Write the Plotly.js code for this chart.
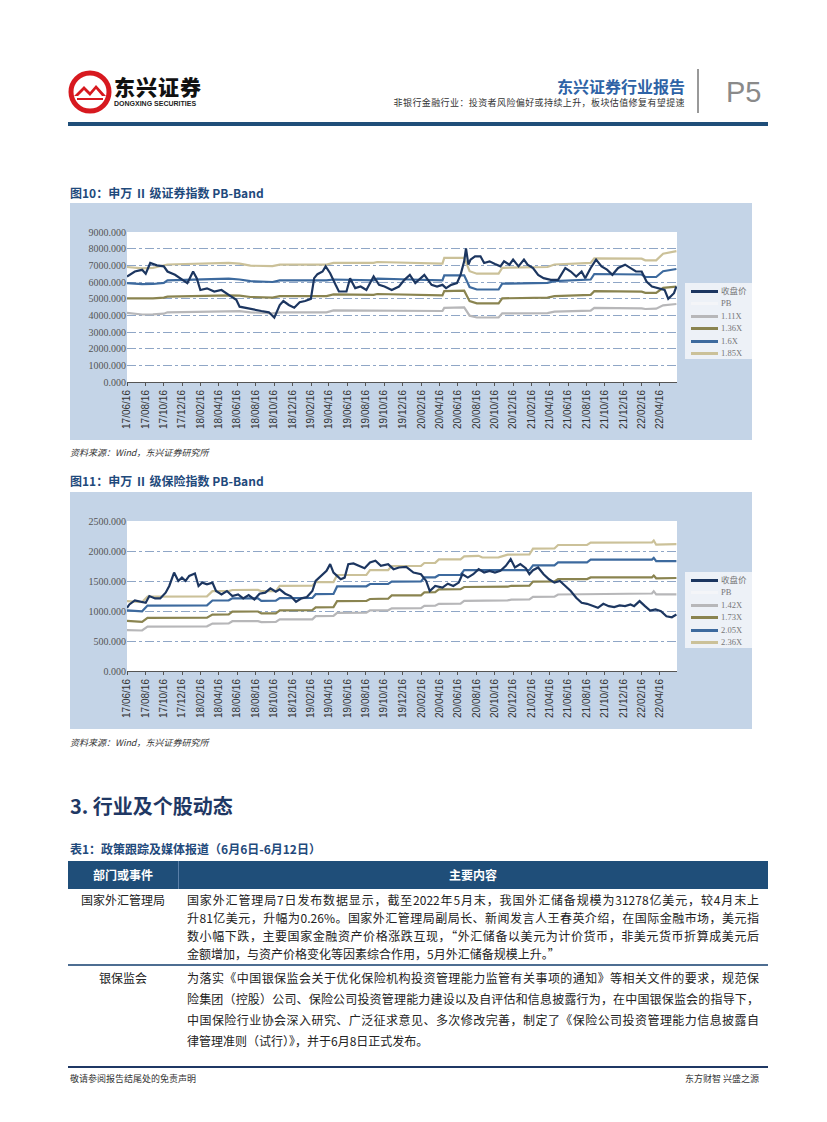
<!DOCTYPE html>
<html><head><meta charset="utf-8">
<script src="https://cdn.plot.ly/plotly-3.0.1.min.js"></script>
<style>
html,body{margin:0;padding:0;background:#fff;}
body{width:827px;height:1122px;position:relative;overflow:hidden;font-family:"Noto Sans CJK SC","Noto Sans",sans-serif;}
.abs{position:absolute;white-space:nowrap;}
.ftitle{font-size:12px;font-weight:bold;color:#1F4A7C;}
.src{font-size:9px;font-style:italic;color:#333;}
.chartbox{position:absolute;left:70px;width:682px;height:237px;background:#C4D4E7;}
.row-line{font-size:12px;color:#222;text-align:justify;text-align-last:justify;}
.row-line.last{text-align-last:left;}
.lg{position:absolute;left:685px;width:67px;height:76px;background-color:#EDF1F7;
  background-image:radial-gradient(#D3DDEB 0.6px, transparent 0.7px);background-size:2px 2px;}
.lgi{position:absolute;left:0;height:12px;width:67px;}
.lgi .ln{position:absolute;left:6px;top:5px;width:27px;height:3px;}
.lgi .tx{position:absolute;left:36px;top:0;font-size:8.5px;line-height:12px;color:#777;font-family:"Liberation Serif","Noto Sans CJK SC",serif;}
</style></head><body>

<!-- header -->
<svg class="abs" style="left:68px;top:70px" width="44" height="44" viewBox="0 0 44 44">
  <circle cx="22" cy="22" r="19" fill="none" stroke="#D7191F" stroke-width="5"/>
  <path d="M6 26 L16 16 L22 22 L28 15 L38 26 L34 26 L28 19 L22 26 L16 20 L10 26 Z" fill="#D7191F"/>
  <path d="M9 29 L35 29" stroke="#D7191F" stroke-width="2"/>
</svg>
<div class="abs" style="left:114px;top:74px;font-size:21px;font-weight:900;color:#111;letter-spacing:1px;line-height:24px;">东兴证券</div>
<div class="abs" style="left:114px;top:99px;font-size:7px;font-weight:bold;color:#222;font-family:'Liberation Sans',Arial;line-height:9px;">DONGXING SECURITIES</div>
<div class="abs" style="right:142px;top:76px;font-size:16px;font-weight:bold;color:#2E63A6;line-height:20px;">东兴证券行业报告</div>
<div class="abs" style="right:142px;top:97px;font-size:9px;color:#333;line-height:12px;letter-spacing:0.4px;">非银行金融行业：投资者风险偏好或持续上升，板块估值修复有望提速</div>
<div class="abs" style="left:697px;top:69px;width:2px;height:44px;background:#999;"></div>
<div class="abs" style="left:726px;top:76px;font-size:29px;color:#8A8A8A;font-family:'Liberation Sans',Arial;line-height:32px;">P5</div>
<div class="abs" style="left:68px;top:122px;width:700px;height:4px;background:#1F4E79;"></div>

<!-- figure 10 -->
<div class="abs ftitle" style="left:70px;top:184px;">图10：申万 Ⅱ 级证券指数 PB-Band</div>
<div class="chartbox" style="top:203px;"></div>
<div id="c1" class="abs" style="left:70px;top:203px;width:682px;height:237px;"></div>
<div id="lg1" class="lg" style="top:283px;"></div>
<div class="abs src" style="left:70px;top:446px;">资料来源：Wind，东兴证券研究所</div>

<!-- figure 11 -->
<div class="abs ftitle" style="left:70px;top:472px;">图11：申万 Ⅱ 级保险指数 PB-Band</div>
<div class="chartbox" style="top:492px;"></div>
<div id="c2" class="abs" style="left:70px;top:492px;width:682px;height:237px;"></div>
<div id="lg2" class="lg" style="top:572px;"></div>
<div class="abs src" style="left:70px;top:736px;">资料来源：Wind，东兴证券研究所</div>

<!-- section -->
<div class="abs" style="left:70px;top:792px;font-size:20px;font-weight:bold;color:#1F3864;line-height:28px;">3. 行业及个股动态</div>
<div class="abs ftitle" style="left:70px;top:840px;">表1：政策跟踪及媒体报道（6月6日-6月12日）</div>

<!-- table -->
<div class="abs" style="left:68px;top:861px;width:700px;height:28px;background:#1F4E79;"></div>
<div class="abs" style="left:178px;top:861px;width:1px;height:28px;background:#5A7FA8;"></div>
<div class="abs" style="left:68px;top:861px;width:110px;line-height:28px;text-align:center;color:#fff;font-weight:bold;font-size:12px;">部门或事件</div>
<div class="abs" style="left:178px;top:861px;width:590px;line-height:28px;text-align:center;color:#fff;font-weight:bold;font-size:12px;">主要内容</div>

<div class="abs" style="left:68px;top:891px;width:110px;text-align:center;font-size:12px;line-height:18px;color:#222;">国家外汇管理局</div>
<div class="abs" style="left:187px;top:891px;width:572px;white-space:normal;line-height:18px;">
<div class="row-line">国家外汇管理局7日发布数据显示，截至2022年5月末，我国外汇储备规模为31278亿美元，较4月末上</div>
<div class="row-line">升81亿美元，升幅为0.26%。国家外汇管理局副局长、新闻发言人王春英介绍，在国际金融市场，美元指</div>
<div class="row-line">数小幅下跌，主要国家金融资产价格涨跌互现，“外汇储备以美元为计价货币，非美元货币折算成美元后</div>
<div class="row-line last">金额增加，与资产价格变化等因素综合作用，5月外汇储备规模上升。”</div>
</div>
<div class="abs" style="left:68px;top:964px;width:700px;height:2px;background:#4E6E92;"></div>

<div class="abs" style="left:68px;top:967px;width:110px;text-align:center;font-size:12px;line-height:21px;color:#222;">银保监会</div>
<div class="abs" style="left:187px;top:967px;width:572px;white-space:normal;line-height:21px;">
<div class="row-line">为落实《中国银保监会关于优化保险机构投资管理能力监管有关事项的通知》等相关文件的要求，规范保</div>
<div class="row-line">险集团（控股）公司、保险公司投资管理能力建设以及自评估和信息披露行为，在中国银保监会的指导下，</div>
<div class="row-line">中国保险行业协会深入研究、广泛征求意见、多次修改完善，制定了《保险公司投资管理能力信息披露自</div>
<div class="row-line last">律管理准则（试行）》，并于6月8日正式发布。</div>
</div>

<!-- footer -->
<div class="abs" style="left:68px;top:1066px;width:700px;height:2px;background:#1F3864;"></div>
<div class="abs" style="left:70px;top:1072px;font-size:9px;color:#333;">敬请参阅报告结尾处的免责声明</div>
<div class="abs" style="right:68px;top:1072px;font-size:9px;color:#333;">东方财智 兴盛之源</div>

<script>
// ---------- shared tick labels ----------
const tickLabels = ['17/06/16','17/08/16','17/10/16','17/12/16','18/02/16','18/04/16','18/06/16','18/08/16','18/10/16','18/12/16',
'19/02/16','19/04/16','19/06/16','19/08/16','19/10/16','19/12/16','20/02/16','20/04/16','20/06/16','20/08/16','20/10/16','20/12/16',
'21/02/16','21/04/16','21/06/16','21/08/16','21/10/16','21/12/16','22/02/16','22/04/16'];

// ---------- Figure 10: securities index ----------
const c1Dates = ['2017-06-16','2017-07-12','2017-08-05','2017-08-17','2017-09-01','2017-09-23','2017-10-16','2017-10-28','2017-11-22','2017-12-15',
'2018-01-02','2018-01-21','2018-02-02','2018-02-14','2018-03-08','2018-04-01','2018-04-25','2018-05-19','2018-06-13','2018-06-24',
'2018-07-18','2018-08-12','2018-09-04','2018-09-29','2018-10-17','2018-11-04','2018-11-16','2018-12-04','2018-12-22','2019-01-09',
'2019-01-27','2019-02-15','2019-02-26','2019-03-09','2019-03-26','2019-04-05','2019-04-20','2019-05-08','2019-05-19','2019-06-13',
'2019-06-25','2019-07-12','2019-07-30','2019-08-18','2019-08-30','2019-09-11','2019-09-29','2019-10-17','2019-11-10','2019-12-04',
'2019-12-22','2020-01-09','2020-01-27','2020-02-15','2020-02-26','2020-03-09','2020-03-21','2020-04-08','2020-04-26','2020-05-08',
'2020-05-25','2020-06-13','2020-06-25','2020-07-07','2020-07-13','2020-07-21','2020-07-28','2020-08-12','2020-08-30','2020-09-11',
'2020-09-29','2020-10-17','2020-11-04','2020-11-16','2020-12-04','2020-12-16','2021-01-03','2021-01-21','2021-02-02','2021-02-20',
'2021-03-09','2021-03-27','2021-04-20','2021-05-14','2021-05-26','2021-06-07','2021-06-25','2021-07-13','2021-07-31','2021-08-12',
'2021-08-30','2021-09-17','2021-10-05','2021-10-23','2021-11-10','2021-11-29','2021-12-22','2022-01-09','2022-01-27','2022-02-15',
'2022-03-03','2022-03-21','2022-04-14','2022-05-02','2022-05-14','2022-05-26','2022-06-02','2022-06-10'];
const c1Close = [6330,6630,6730,6500,7140,7000,6940,6630,6430,6130,
5930,6630,6230,5520,5620,5430,5520,5230,4930,4520,
4420,4320,4260,4180,3860,4620,4860,4620,4460,4790,
4860,4990,6230,6470,6630,6940,6530,5830,5430,5430,
6230,5630,5730,5520,5930,6330,5830,5730,5520,5730,
6130,6430,5930,6230,6430,6130,5830,5730,5830,5630,
5830,5930,6430,7240,8010,7040,7340,7540,7540,7140,
7240,7080,6940,7240,7040,7340,6940,7340,7040,6840,
6430,6230,6130,6130,6530,6840,6630,6330,6630,6230,
6840,7340,6940,6740,6430,6840,7040,6840,6630,6630,
6030,5730,5630,5530,4990,5230,5330,5730];
const c1BandDates = ['2017-06-16','2017-08-05','2017-09-10','2017-10-16','2017-10-28','2018-05-19','2018-06-24','2018-07-30','2018-10-11','2018-11-04',
'2019-04-08','2019-05-01','2019-09-11','2019-09-23','2020-01-09','2020-04-26','2020-05-02','2020-07-07','2020-07-25','2020-08-18',
'2020-10-29','2020-11-10','2021-04-09','2021-05-02','2021-08-30','2021-09-11','2022-02-15','2022-02-27','2022-04-04','2022-04-27','2022-06-10'];
const c1Band111 = [4150,4050,4060,4100,4180,4260,4250,4180,4120,4180,4180,4300,4280,4320,4300,4260,4450,4480,3980,3870,3870,4120,4130,4220,4280,4450,4420,4380,4400,4600,4680];
const c1Band136 = [5020,5000,5020,5060,5120,5200,5180,5100,5060,5150,5150,5260,5230,5280,5260,5200,5450,5480,4850,4720,4720,5020,5060,5150,5230,5450,5420,5350,5350,5650,5720];
const c1Band160 = [5930,5870,5880,5950,6100,6200,6150,6050,6000,6100,6100,6150,6100,6200,6150,6100,6400,6400,5700,5550,5550,5900,5950,6050,6150,6480,6450,6300,6300,6650,6780];
const c1Band185 = [6900,6820,6850,7000,7050,7150,7100,6980,6950,7040,7040,7150,7150,7200,7150,7100,7450,7450,6650,6500,6500,6850,6900,7050,7150,7420,7400,7300,7300,7700,7850];
const c1Names = ['收盘价','PB','1.11X','1.36X','1.6X','1.85X'];

// ---------- Figure 11: insurance index ----------
const c2Dates = ['2017-06-16','2017-06-24','2017-07-12','2017-07-30','2017-08-17','2017-08-29','2017-09-17','2017-10-04','2017-10-22','2017-11-03',
'2017-11-19','2017-12-03','2017-12-15','2017-12-27','2018-01-08','2018-01-27','2018-02-08','2018-02-20','2018-03-08','2018-03-26',
'2018-04-07','2018-04-25','2018-05-13','2018-05-31','2018-06-19','2018-07-06','2018-07-24','2018-08-12','2018-08-29','2018-09-17',
'2018-10-04','2018-10-22','2018-11-04','2018-11-22','2018-12-10','2018-12-28','2019-01-15','2019-02-02','2019-02-20','2019-03-03',
'2019-03-20','2019-04-08','2019-04-20','2019-05-01','2019-05-13','2019-05-25','2019-06-07','2019-06-19','2019-07-06','2019-07-24',
'2019-08-12','2019-08-30','2019-09-17','2019-10-05','2019-10-29','2019-11-16','2019-12-04','2019-12-28','2020-01-21','2020-02-15',
'2020-03-03','2020-03-15','2020-04-02','2020-04-26','2020-05-14','2020-06-01','2020-06-19','2020-07-01','2020-07-19','2020-08-06',
'2020-08-24','2020-09-11','2020-09-29','2020-10-17','2020-11-04','2020-11-22','2020-12-08','2020-12-22','2021-01-09','2021-01-27',
'2021-02-08','2021-02-20','2021-03-09','2021-03-27','2021-04-14','2021-05-02','2021-05-20','2021-06-07','2021-06-25','2021-07-13',
'2021-07-31','2021-08-18','2021-09-05','2021-09-23','2021-10-11','2021-10-29','2021-11-16','2021-12-04','2021-12-22','2022-01-09',
'2022-01-21','2022-02-08','2022-02-26','2022-03-15','2022-04-02','2022-04-20','2022-05-08','2022-05-26','2022-06-10'];
const c2Close = [1053,1109,1176,1154,1137,1249,1210,1210,1305,1417,
1641,1501,1557,1501,1585,1624,1417,1473,1445,1473,
1333,1277,1333,1249,1277,1210,1266,1193,1288,1305,
1378,1322,1361,1288,1249,1154,1210,1232,1333,1501,
1585,1669,1781,1641,1585,1529,1557,1781,1792,1753,
1714,1809,1837,1753,1781,1697,1725,1736,1641,1613,
1501,1333,1417,1389,1456,1417,1473,1613,1557,1613,
1697,1641,1669,1641,1669,1753,1865,1725,1781,1714,
1613,1680,1725,1613,1529,1473,1501,1417,1333,1221,
1137,1120,1092,1053,1120,1081,1064,1092,1081,1109,
1081,1165,1081,1008,1025,997,913,896,941];
const c2BandDates = ['2017-06-16','2017-08-05','2017-08-23','2018-03-08','2018-03-26','2018-05-19','2018-05-31','2018-08-24','2018-09-04','2018-10-22',
'2018-11-04','2019-02-20','2019-03-03','2019-05-01','2019-05-13','2019-08-18','2019-08-30','2019-10-29','2019-11-10','2020-02-15',
'2020-02-26','2020-04-02','2020-04-14','2020-06-25','2020-07-07','2020-08-24','2020-09-05','2020-10-29','2020-11-28','2020-12-10',
'2021-02-08','2021-02-20','2021-05-02','2021-05-14','2021-08-18','2021-08-30','2022-03-21','2022-03-27','2022-04-04','2022-06-10'];
const c2Band142 = [680,675,740,745,790,792,830,832,815,818,860,862,915,918,970,972,1010,1012,1045,1048,1085,1088,1120,1122,1170,1172,1168,1172,1176,1190,1192,1235,1238,1275,1278,1290,1292,1330,1278,1278];
const c2Band173 = [835,820,885,890,940,942,990,992,960,962,1010,1015,1060,1065,1165,1168,1200,1205,1260,1262,1310,1315,1360,1365,1400,1402,1398,1402,1405,1420,1422,1490,1492,1530,1532,1560,1562,1590,1545,1550];
const c2Band205 = [1010,995,1090,1095,1175,1178,1210,1212,1170,1172,1215,1218,1280,1285,1410,1412,1450,1452,1490,1492,1560,1562,1600,1602,1680,1682,1675,1680,1682,1680,1682,1760,1762,1810,1812,1855,1856,1885,1830,1832];
const c2Band236 = [1165,1150,1240,1245,1330,1332,1350,1352,1330,1332,1420,1422,1480,1482,1600,1602,1680,1682,1750,1752,1800,1802,1860,1862,1910,1920,1892,1895,1938,1940,1942,2040,2042,2100,2102,2140,2142,2175,2105,2115];
const c2Names = ['收盘价','PB','1.42X','1.73X','2.05X','2.36X'];

// ---------- styles ----------
const colClose = '#1C3660', colPB = '#F4F5F8', colLow = '#B7B7B9', colOlive = '#8A8450', colBlue = '#3D6A9E', colKhaki = '#CBC199';
const seriesColors = [colClose, colPB, colLow, colOlive, colBlue, colKhaki];

function tickVals(){ return tickLabels.map(t => '20' + t.slice(0,2) + '-' + t.slice(3,5) + '-' + t.slice(6,8)); }

function buildLegend(id, names){
  const box = document.getElementById(id);
  names.forEach((n, i) => {
    const it = document.createElement('div');
    it.className = 'lgi';
    it.style.top = (2 + i * 12.4) + 'px';
    it.innerHTML = '<div class="ln" style="background:' + seriesColors[i] + '"></div><div class="tx">' + n + '</div>';
    box.appendChild(it);
  });
}

function makeChart(id, dates, close, bDates, bands, names, yMax, yStep){
  const cols = [colLow, colOlive, colBlue, colKhaki];
  const traces = [];
  bands.forEach((b, i) => traces.push({x: bDates, y: b, name: names[i+2], mode: 'lines', line: {color: cols[i], width: 2.2}}));
  traces.push({x: dates, y: close, name: names[0], mode: 'lines', line: {color: colClose, width: 2.2}});
  const layout = {
    width: 682, height: 237,
    paper_bgcolor: 'rgba(0,0,0,0)', plot_bgcolor: '#FFFFFF',
    margin: {l: 57, r: 75, t: 29, b: 58},
    showlegend: false,
    xaxis: {type: 'date', range: ['2017-06-16', '2022-06-12'], tickmode: 'array', tickvals: tickVals(), ticktext: tickLabels,
      tickangle: -90, tickfont: {family: 'Liberation Sans, Arial', size: 10, color: '#333'},
      showgrid: false, showline: true, linecolor: '#555', linewidth: 1, ticks: 'outside', ticklen: 3, tickcolor: '#555', zeroline: false},
    yaxis: {range: [0, yMax], dtick: yStep, tick0: 0, tickformat: '.3f',
      tickfont: {family: 'Liberation Serif', size: 10, color: '#555'},
      showgrid: true, gridcolor: '#8FA6C6', griddash: 'dashdot', gridwidth: 1, zeroline: false, showline: false, ticks: ''}
  };
  Plotly.newPlot(id, traces, layout, {staticPlot: true, displayModeBar: false});
}

makeChart('c1', c1Dates, c1Close, c1BandDates, [c1Band111, c1Band136, c1Band160, c1Band185], c1Names, 9000, 1000);
makeChart('c2', c2Dates, c2Close, c2BandDates, [c2Band142, c2Band173, c2Band205, c2Band236], c2Names, 2500, 500);
buildLegend('lg1', c1Names);
buildLegend('lg2', c2Names);
</script>
</body></html>
